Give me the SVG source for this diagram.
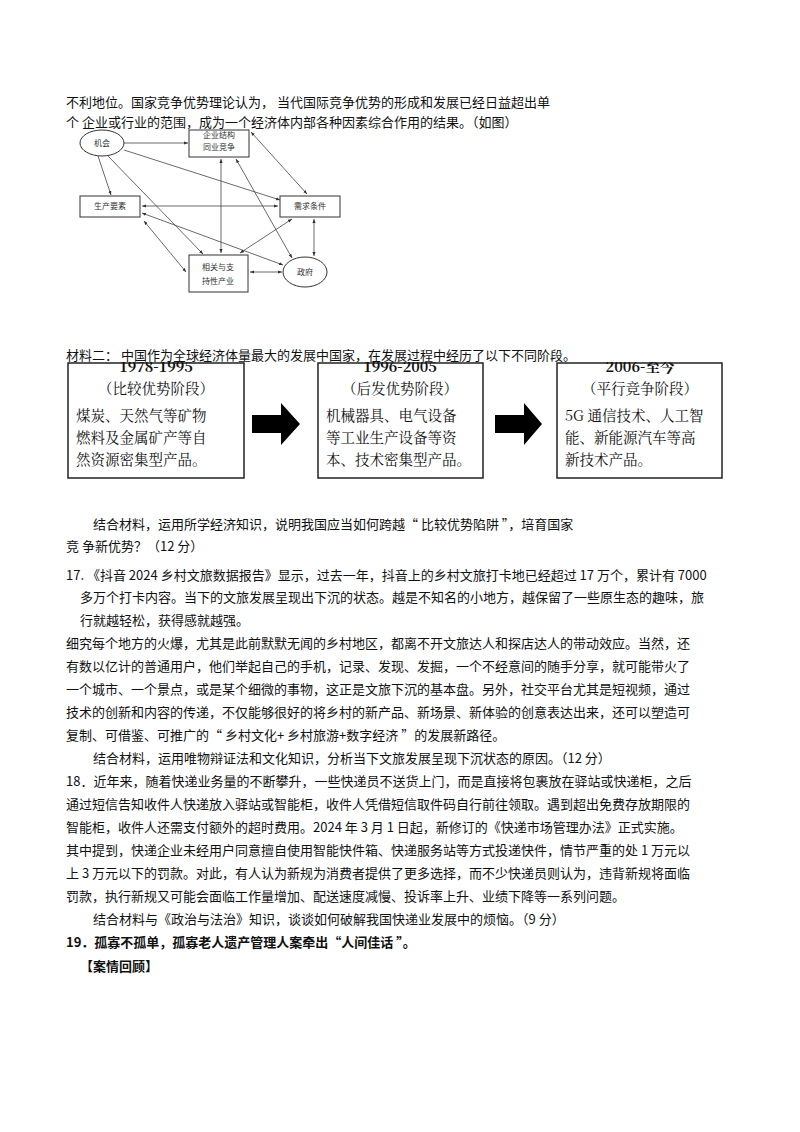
<svg xmlns="http://www.w3.org/2000/svg" width="800" height="1132" viewBox="0 0 800 1132">
<style>
text{font-family:"Noto Sans CJK SC","Noto Sans",sans-serif;fill:#111}
.t{font-size:13px}
.s{font-size:8px;fill:#333}
.b{font-size:14.5px;font-family:"Noto Serif CJK SC","Noto Sans CJK SC",serif}
.n{fill:#fff;stroke:#333;stroke-width:1}
.c line{stroke:#444;stroke-width:0.8;marker-end:url(#a)}
.d line{marker-start:url(#a2)}
.bx{fill:#fff;stroke:#222;stroke-width:1.5}
</style>
<defs>
<marker id="a" viewBox="0 0 10 10" refX="10" refY="5" markerWidth="5" markerHeight="5" orient="auto"><path d="M0,1L10,5L0,9z" fill="#333"/></marker>
<marker id="a2" viewBox="0 0 10 10" refX="0" refY="5" markerWidth="5" markerHeight="5" orient="auto"><path d="M10,1L0,5L10,9z" fill="#333"/></marker>
<clipPath id="cy"><rect x="0" y="362" width="800" height="20"/></clipPath>
<clipPath id="ce"><rect x="0" y="131" width="800" height="10"/></clipPath>
</defs>
<rect width="800" height="1132" fill="#fff"/>
<text class="t" x="66" y="107">不利地位。国家竞争优势理论认为， 当代国际竞争优势的形成和发展已经日益超出单</text>
<g class="c">
<line x1="124" y1="143" x2="188" y2="143"/>
<line x1="98" y1="156" x2="111" y2="195"/>
<line x1="108" y1="156" x2="203" y2="254"/>
<line x1="124" y1="150" x2="280" y2="200"/>
<g class="d"><line x1="142" y1="206" x2="278" y2="206"/>
<line x1="144" y1="221" x2="186" y2="272"/>
<line x1="142" y1="213" x2="283" y2="265"/>
<line x1="221" y1="159" x2="221" y2="253"/>
<line x1="236" y1="159" x2="292" y2="258"/>
<line x1="251" y1="132" x2="307" y2="194"/>
<line x1="240" y1="253" x2="292" y2="219"/>
<line x1="314" y1="219" x2="314" y2="256"/>
<line x1="250" y1="272" x2="282" y2="272"/></g>
</g>
<g id="n1"><ellipse class="n" cx="102" cy="143" rx="22" ry="13"/><text class="s" x="102" y="146" text-anchor="middle">机会</text></g>
<g id="n2"><rect class="n" x="189" y="130" width="60" height="27"/><text class="s" x="219" y="138" text-anchor="middle" clip-path="url(#ce)">企业结构</text><text class="s" x="219" y="150" text-anchor="middle">同业竞争</text></g>
<g id="n3"><rect class="n" x="80" y="196" width="60" height="21"/><text class="s" x="110" y="209" text-anchor="middle">生产要素</text></g>
<g id="n4"><rect class="n" x="280" y="196" width="60" height="21"/><text class="s" x="310" y="209" text-anchor="middle">需求条件</text></g>
<g id="n5"><rect class="n" x="189" y="255" width="59" height="37"/><text class="s" x="218" y="270" text-anchor="middle">相关与支</text><text class="s" x="218" y="284" text-anchor="middle">持性产业</text></g>
<g id="n6"><ellipse class="n" cx="305" cy="272" rx="22" ry="15"/><text class="s" x="305" y="275" text-anchor="middle">政府</text></g>
<text class="t" x="66" y="127">个 企业或行业的范围，成为一个经济体内部各种因素综合作用的结果。（如图）</text>

<g id="p1"><rect class="bx" x="68" y="363" width="176" height="115"/>
<text class="b" x="156" y="372" text-anchor="middle" font-weight="bold" clip-path="url(#cy)">1978-1995</text>
<text class="b" x="156" y="394" text-anchor="middle">（比较优势阶段）</text>
<text class="b" x="76" y="421">煤炭、天然气等矿物</text>
<text class="b" x="76" y="443">燃料及金属矿产等自</text>
<text class="b" x="76" y="465">然资源密集型产品。</text></g>
<polygon id="ar1" points="252,415 281,415 281,403 300,424 281,445 281,433 252,433" fill="#000"/>
<g id="p2"><rect class="bx" x="318" y="363" width="165" height="115"/>
<text class="b" x="400" y="372" text-anchor="middle" font-weight="bold" clip-path="url(#cy)">1996-2005</text>
<text class="b" x="400" y="394" text-anchor="middle">（后发优势阶段）</text>
<text class="b" x="326" y="421">机械器具、电气设备</text>
<text class="b" x="326" y="443">等工业生产设备等资</text>
<text class="b" x="326" y="465">本、技术密集型产品。</text></g>
<polygon id="ar2" points="495,415 524,415 524,403 542,424 524,445 524,433 495,433" fill="#000"/>
<g id="p3"><rect class="bx" x="557" y="363" width="165" height="115"/>
<text class="b" x="640" y="372" text-anchor="middle" font-weight="bold" clip-path="url(#cy)">2006-至今</text>
<text class="b" x="640" y="394" text-anchor="middle">（平行竞争阶段）</text>
<text class="b" x="565" y="421">5G 通信技术、人工智</text>
<text class="b" x="565" y="443">能、新能源汽车等高</text>
<text class="b" x="565" y="465">新技术产品。</text></g>
<text class="t" x="66" y="360">材料二： 中国作为全球经济体量最大的发展中国家，在发展过程中经历了以下不同阶段。</text>

<text class="t" x="93" y="529">结合材料，运用所学经济知识，说明我国应当如何跨越“ 比较优势陷阱 ”，培育国家</text>
<text class="t" x="66" y="551">竞 争新优势？（12 分）</text>
<text class="t" x="66" y="580">17. 《抖音 2024 乡村文旅数据报告》显示，过去一年，抖音上的乡村文旅打卡地已经超过 17 万个，累计有 7000</text>
<text class="t" x="80" y="602">多万个打卡内容。当下的文旅发展呈现出下沉的状态。越是不知名的小地方，越保留了一些原生态的趣味，旅</text>
<text class="t" x="80" y="625">行就越轻松，获得感就越强。</text>
<text class="t" x="66" y="648">细究每个地方的火爆，尤其是此前默默无闻的乡村地区，都离不开文旅达人和探店达人的带动效应。当然，还</text>
<text class="t" x="66" y="671">有数以亿计的普通用户，他们举起自己的手机，记录、发现、发掘，一个不经意间的随手分享，就可能带火了</text>
<text class="t" x="66" y="694">一个城市、一个景点，或是某个细微的事物，这正是文旅下沉的基本盘。另外，社交平台尤其是短视频，通过</text>
<text class="t" x="66" y="717">技术的创新和内容的传递，不仅能够很好的将乡村的新产品、新场景、新体验的创意表达出来，还可以塑造可</text>
<text class="t" x="66" y="740">复制、可借鉴、可推广的“ 乡村文化+ 乡村旅游+数字经济 ”的发展新路径。</text>
<text class="t" x="93" y="763">结合材料，运用唯物辩证法和文化知识，分析当下文旅发展呈现下沉状态的原因。（12 分）</text>
<text class="t" x="66" y="786">18．近年来，随着快递业务量的不断攀升，一些快递员不送货上门，而是直接将包裹放在驿站或快递柜，之后</text>
<text class="t" x="66" y="809">通过短信告知收件人快递放入驿站或智能柜，收件人凭借短信取件码自行前往领取。遇到超出免费存放期限的</text>
<text class="t" x="66" y="832">智能柜，收件人还需支付额外的超时费用。2024 年 3 月 1 日起，新修订的《快递市场管理办法》正式实施。</text>
<text class="t" x="66" y="855">其中提到，快递企业未经用户同意擅自使用智能快件箱、快递服务站等方式投递快件，情节严重的处 1 万元以</text>
<text class="t" x="66" y="878">上 3 万元以下的罚款。对此，有人认为新规为消费者提供了更多选择，而不少快递员则认为，违背新规将面临</text>
<text class="t" x="66" y="901">罚款，执行新规又可能会面临工作量增加、配送速度减慢、投诉率上升、业绩下降等一系列问题。</text>
<text class="t" x="93" y="924">结合材料与《政治与法治》知识，谈谈如何破解我国快递业发展中的烦恼。（9 分）</text>
<text class="t" x="66" y="947" font-weight="bold">19．孤寡不孤单，孤寡老人遗产管理人案牵出“人间佳话 ”。</text>
<text class="t" x="80" y="971" font-weight="bold">【案情回顾】</text>
</svg>
